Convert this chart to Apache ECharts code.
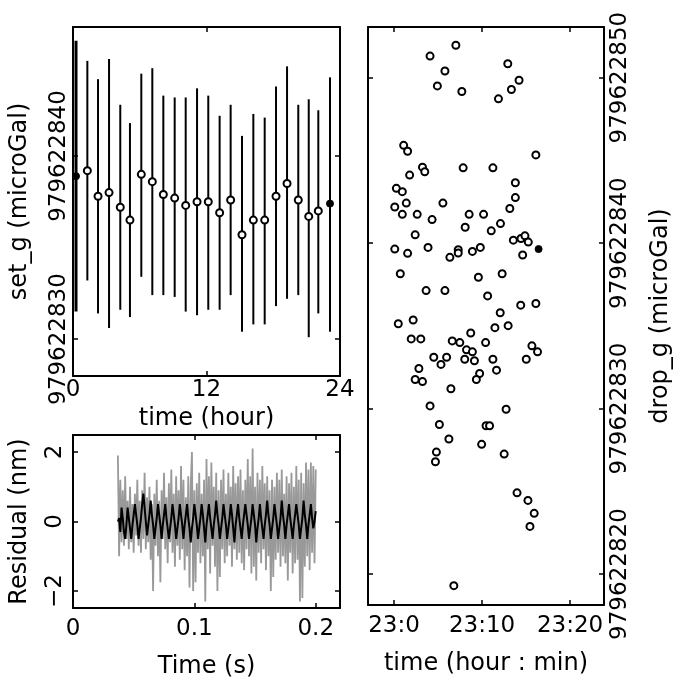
<!DOCTYPE html>
<html><head><meta charset="utf-8">
<script src="https://cdn.jsdelivr.net/npm/echarts@6/dist/echarts.min.js"></script>
<style>html,body{margin:0;padding:0;background:#fff}#c{width:674px;height:681px}</style>
</head><body><div id="c"></div>
<script>
// ---------- Panel 1: set_g vs time (hour) ----------
const setHours = [0.27, 1.29, 2.25, 3.24, 4.25, 5.12, 6.14, 7.13, 8.12, 9.14, 10.13, 11.15,
  12.16, 13.18, 14.17, 15.19, 16.21, 17.23, 18.25, 19.24, 20.25, 21.19, 22.05, 23.1];
const setG = [979622838.9, 979622839.2, 979622837.8, 979622838.0, 979622837.2, 979622836.5,
  979622839.0, 979622838.6, 979622837.9, 979622837.7, 979622837.3, 979622837.5,
  979622837.5, 979622836.9, 979622837.6, 979622835.7, 979622836.5, 979622836.5,
  979622837.8, 979622838.5, 979622837.6, 979622836.7, 979622837.0, 979622837.4];
const setGLow = [979622831.5, 979622833.2, 979622831.4, 979622830.6, 979622831.6, 979622831.2,
  979622833.4, 979622832.4, 979622832.4, 979622832.3, 979622831.5, 979622831.3,
  979622831.6, 979622831.6, 979622832.4, 979622830.4, 979622830.8, 979622830.8,
  979622831.8, 979622832.2, 979622832.4, 979622830.1, 979622831.4, 979622830.4];
const setGHigh = [979622846.3, 979622845.2, 979622844.2, 979622845.3, 979622842.8, 979622841.8,
  979622844.5, 979622844.8, 979622843.3, 979622843.2, 979622843.2, 979622843.7,
  979622843.3, 979622842.2, 979622842.8, 979622841.1, 979622842.3, 979622842.1,
  979622843.8, 979622844.9, 979622842.8, 979622843.1, 979622842.5, 979622844.3];
const setXTicks = [0, 12, 24];
const setYTicks = [979622830, 979622840];

// ---------- Panel 2: residual vs time (s) ----------
const residualStart = 0.037;   // s, first sample
const residualStep = 0.001;    // s, sampling interval
const residualGray = [
  1.9, -1.0, 1.2, -0.6, 0.9, -0.7, 1.3, -0.5, 0.6, -0.8,
  1.0, -0.6, 0.5, -0.9, 0.8, -0.4, 1.2, -0.7, 0.6, -0.9,
  0.9, -0.5, 1.4, -0.8, 0.7, -0.6, 1.0, -1.1, 0.5, -2.0,
  0.8, -0.7, 1.2, -1.0, 0.6, -1.75, 0.9, -0.5, 1.4, -0.8,
  0.7, -1.2, 1.1, -0.6, 1.5, -0.9, 0.8, -1.3, 1.3, -0.7,
  0.9, -1.1, 1.6, -0.8, 1.2, -1.4, 0.7, -1.0, 1.3, -1.9,
  1.0, 2.0, -2.0, 0.9, -1.75, 1.1, -0.9, 1.4, -1.2, 0.8,
  -1.0, 1.2, -2.3, 1.8, -0.8, 1.3, -1.5, 1.7, -0.7, 1.0,
  -1.3, 1.4, -2.0, 0.9, -1.6, 1.2, -0.8, 1.5, -1.2, 0.8,
  -1.0, 1.4, -0.7, 1.0, -1.3, 1.6, -0.8, 1.1, -1.1, 1.3,
  -0.9, 1.5, -1.2, 0.9, -1.4, 1.2, -0.8, 1.8, -1.0, 1.3,
  -1.5, 2.1, -1.3, 1.0, -1.7, 1.4, -0.9, 1.2, -1.2, 1.6,
  -0.8, 1.1, -1.4, 1.3, -1.0, 0.9, -2.0, 1.2, -1.6, 1.0,
  -1.1, 1.4, -0.9, 1.2, -1.3, 1.5, -1.0, 0.8, -1.2, 1.3,
  -1.7, 1.1, -0.9, 1.4, -1.5, 1.0, -1.2, 1.6, -1.1, 1.2,
  -2.3, 1.4, -2.2, 1.1, -1.3, 1.7, -1.0, 1.5, -1.4, 1.7,
  -0.9, 1.6, -1.2, 1.5];
const residualBlack = [
  0.0, 0.1, -0.3, 0.4, 0.1, -0.3, -0.5,
  -0.1, 0.4, 0.1, -0.2, -0.5, -0.1, 0.2,
  0.5, 0.2, -0.1, -0.5, -0.2, 0.1, 0.5,
  0.8, 0.4, 0.0, -0.4, -0.1, 0.2, 0.6,
  0.2, -0.1, -0.5, -0.2, 0.1, 0.5, 0.2,
  -0.1, -0.5, -0.1, 0.2, 0.5, 0.1, -0.2,
  -0.5, -0.2, 0.1, 0.5, 0.2, -0.1, -0.5,
  -0.2, 0.1, 0.5, 0.2, -0.1, -0.5, -0.1,
  0.2, 0.5, 0.1, -0.2, -0.6, -0.2, 0.1,
  0.5, 0.2, -0.1, -0.5, -0.2, 0.1, 0.5,
  0.2, -0.2, -0.6, -0.1, 0.2, 0.5, 0.1,
  -0.2, -0.5, -0.1, 0.2, 0.6, 0.2, -0.1,
  -0.5, -0.2, 0.1, 0.5, 0.2, -0.1, -0.5,
  -0.2, 0.1, 0.5, 0.2, -0.2, -0.6, -0.1,
  0.2, 0.5, 0.1, -0.2, -0.5, -0.1, 0.2,
  0.5, 0.2, -0.1, -0.5, -0.2, 0.1, 0.5,
  0.2, -0.1, -0.6, -0.2, 0.1, 0.5, 0.1,
  -0.2, -0.5, -0.1, 0.2, 0.6, 0.2, -0.1,
  -0.5, -0.2, 0.1, 0.5, 0.2, -0.1, -0.5,
  -0.2, 0.1, 0.6, 0.2, -0.1, -0.5, -0.1,
  0.2, 0.5, 0.1, -0.2, -0.5, -0.1, 0.2,
  0.5, 0.2, -0.1, -0.5, -0.2, 0.1, 0.6,
  0.2, -0.1, -0.5, -0.1, 0.2, 0.5, 0.1,
  -0.2, 0.0, 0.3];
const residualXTicks = [0, 0.1, 0.2];
const residualYTicks = [-2, 0, 2];

// ---------- Panel 3: drop_g vs time (minutes after 23:00) ----------
const dropMinutes = [7.02, 4.09, 12.92, 5.78, 14.20, 4.92, 7.70, 13.33, 11.86, 1.09,
  1.54, 16.11, 3.23, 3.49, 1.77, 7.85, 11.23, 13.78, 0.26, 0.94,
  13.78, 1.39, 5.55, 0.08, 13.15, 0.94, 2.63, 8.53, 10.17, 4.32,
  8.08, 12.09, 11.04, 2.40, 13.55, 14.42, 14.87, 15.25, 0.08, 1.54,
  3.86, 7.29, 7.29, 9.80, 8.90, 6.34, 14.61, 0.71, 9.58, 12.28,
  3.64, 5.78, 10.63, 14.39, 16.11, 12.06, 0.48, 2.17, 11.46, 12.96,
  8.71, 1.95, 3.04, 6.61, 7.47, 10.40, 8.23, 8.90, 15.66, 16.30,
  4.51, 5.97, 8.03, 9.13, 11.23, 15.02, 5.33, 2.82, 11.64, 9.72,
  9.35, 2.40, 3.23, 6.46, 4.09, 12.73, 5.15, 10.45, 10.85, 6.23,
  9.95, 12.51, 4.81, 4.70, 13.97, 15.21, 15.92, 15.44, 6.79];
const dropG = [979622851.96, 979622851.30, 979622850.84, 979622850.40, 979622849.84,
  979622849.50, 979622849.16, 979622849.28, 979622848.72, 979622845.91,
  979622845.55, 979622845.33, 979622844.59, 979622844.31, 979622844.11,
  979622844.55, 979622844.55, 979622843.65, 979622843.31, 979622843.11,
  979622842.75, 979622842.42, 979622842.42, 979622842.18, 979622842.09,
  979622841.74, 979622841.74, 979622841.74, 979622841.74, 979622841.42,
  979622840.96, 979622841.18, 979622840.74, 979622840.50, 979622840.18,
  979622840.28, 979622840.44, 979622840.06, 979622839.64, 979622839.38,
  979622839.74, 979622839.60, 979622839.40, 979622839.74, 979622839.50,
  979622839.14, 979622839.28, 979622838.15, 979622837.94, 979622838.15,
  979622837.13, 979622837.13, 979622836.81, 979622836.25, 979622836.35,
  979622835.79, 979622835.13, 979622835.35, 979622834.89, 979622835.01,
  979622834.57, 979622834.21, 979622834.21, 979622834.09, 979622833.99,
  979622833.99, 979622833.55, 979622833.43, 979622833.79, 979622833.43,
  979622833.10, 979622833.10, 979622832.98, 979622832.89, 979622832.98,
  979622832.98, 979622832.67, 979622832.42, 979622832.32, 979622832.12,
  979622831.76, 979622831.76, 979622831.63, 979622831.20, 979622830.16,
  979622829.96, 979622829.04, 979622828.96, 979622828.96, 979622828.16,
  979622827.84, 979622827.25, 979622827.37, 979622826.79, 979622824.91,
  979622824.45, 979622823.67, 979622822.88, 979622819.30];
const dropMarkedMinutes = [16.42];
const dropMarkedG = [979622839.64];
const dropXTicks = [0, 10, 20];
const dropXTickLabels = ['23:0', '23:10', '23:20'];
const dropYTicks = [979622820, 979622830, 979622840, 979622850];

// ---------- build ----------
const FONT = 'DejaVu Sans';
const residualTime = residualGray.map((_, i) => +(residualStart + i * residualStep).toFixed(4));
const zip = (a, b) => a.map((v, i) => [v, b[i]]);
const lastIdx = setHours.length - 1;

function axisBase(extra) {
  return Object.assign({
    type: 'value',
    splitLine: { show: false },
    axisLine: { show: true, onZero: false, lineStyle: { color: '#000', width: 2 } },
    axisTick: { show: true, inside: true, length: 5, lineStyle: { color: '#000', width: 1.5 } },
    axisLabel: { show: true, color: '#000', fontFamily: FONT, fontSize: 23 },
    nameTextStyle: { color: '#000', fontFamily: FONT, fontSize: 24 }
  }, extra);
}
function mirror(gridIndex, position, min, max, ticks) {
  return axisBase({
    gridIndex, position, min, max,
    axisTick: { show: true, inside: true, length: 5, customValues: ticks, lineStyle: { color: '#000', width: 1.5 } },
    axisLabel: { show: false, customValues: ticks }
  });
}

const grids = [
  { left: 73, top: 27, width: 267, height: 349 },
  { left: 73, top: 435, width: 267, height: 173 },
  { left: 368, top: 27, width: 238, height: 581 }
];
const setYMin = 979622827.98, setYMax = 979622847.05;
const resXMax = 0.22, resYMin = -2.49, resYMax = 2.49;
const dropXMin = -2.96, dropXMax = 23.85, dropYMin = 979622818.13, dropYMax = 979622853.06;

const ringStyle = { color: '#000', borderColor: '#000', borderWidth: 1.8, opacity: 1 };
const dotStyle = { color: '#000', borderColor: '#000', borderWidth: 1, opacity: 1 };

const option = {
  animation: false,
  backgroundColor: '#fff',
  textStyle: { fontFamily: FONT },
  grid: grids.map(g => Object.assign({ show: false, containLabel: false }, g)),
  xAxis: [
    axisBase({ gridIndex: 0, position: 'bottom', min: 0, max: 24,
      axisTick: { show: true, inside: true, length: 5, customValues: setXTicks, lineStyle: { color: '#000', width: 1.5 } },
      axisLabel: { color: '#000', fontFamily: FONT, fontSize: 23, margin: 3, customValues: setXTicks },
      name: 'time (hour)', nameLocation: 'middle', nameGap: 15 }),
    mirror(0, 'top', 0, 24, setXTicks),
    axisBase({ gridIndex: 1, position: 'bottom', min: 0, max: resXMax,
      axisTick: { show: true, inside: true, length: 5, customValues: residualXTicks, lineStyle: { color: '#000', width: 1.5 } },
      axisLabel: { color: '#000', fontFamily: FONT, fontSize: 23, margin: 10, customValues: residualXTicks,
        formatter: v => String(+v.toFixed(2)) },
      name: 'Time (s)', nameLocation: 'middle', nameGap: 47 }),
    mirror(1, 'top', 0, resXMax, residualXTicks),
    axisBase({ gridIndex: 2, position: 'bottom', min: dropXMin, max: dropXMax,
      axisTick: { show: true, inside: true, length: 5, customValues: dropXTicks, lineStyle: { color: '#000', width: 1.5 } },
      axisLabel: { color: '#000', fontFamily: FONT, fontSize: 23, margin: 10, customValues: dropXTicks,
        formatter: v => dropXTickLabels[dropXTicks.indexOf(Math.round(v))] || '' },
      name: 'time (hour : min)', nameLocation: 'middle', nameGap: 47 }),
    mirror(2, 'top', dropXMin, dropXMax, dropXTicks)
  ],
  yAxis: [
    axisBase({ gridIndex: 0, position: 'left', min: setYMin, max: setYMax,
      axisTick: { show: true, inside: true, length: 5, customValues: setYTicks, lineStyle: { color: '#000', width: 1.5 } },
      axisLabel: { color: '#000', fontFamily: FONT, fontSize: 23, margin: 2, rotate: 90, customValues: setYTicks,
        formatter: v => String(Math.round(v)) },
      name: 'set_g (microGal)', nameLocation: 'middle', nameGap: 41 }),
    mirror(0, 'right', setYMin, setYMax, setYTicks),
    axisBase({ gridIndex: 1, position: 'left', min: resYMin, max: resYMax,
      axisTick: { show: true, inside: true, length: 5, customValues: residualYTicks, lineStyle: { color: '#000', width: 1.5 } },
      axisLabel: { color: '#000', fontFamily: FONT, fontSize: 23, margin: 6, rotate: 90, customValues: residualYTicks,
        formatter: v => String(Math.round(v)).replace('-', '\u2212') },
      name: 'Residual (nm)', nameLocation: 'middle', nameGap: 41 }),
    mirror(1, 'right', resYMin, resYMax, residualYTicks),
    axisBase({ gridIndex: 2, position: 'right', min: dropYMin, max: dropYMax,
      axisTick: { show: true, inside: true, length: 5, customValues: dropYTicks, lineStyle: { color: '#000', width: 1.5 } },
      axisLabel: { color: '#000', fontFamily: FONT, fontSize: 23, margin: 5, rotate: 90, customValues: dropYTicks,
        formatter: v => String(Math.round(v)) },
      name: 'drop_g (microGal)', nameLocation: 'middle', nameGap: 45 }),
    mirror(2, 'left', dropYMin, dropYMax, dropYTicks)
  ],
  series: [
    {
      type: 'custom', xAxisIndex: 0, yAxisIndex: 0, silent: true,
      data: setHours.map((h, i) => [h, setGLow[i], setGHigh[i]]),
      encode: { x: 0, y: [1, 2] },
      renderItem: (params, api) => {
        const a = api.coord([api.value(0), api.value(1)]);
        const b = api.coord([api.value(0), api.value(2)]);
        return { type: 'line', shape: { x1: a[0], y1: a[1], x2: b[0], y2: b[1] },
          style: { stroke: '#000', lineWidth: params.dataIndex === 0 ? 3 : 2 } };
      },
      z: 2
    },
    {
      type: 'scatter', xAxisIndex: 0, yAxisIndex: 0, symbol: 'emptyCircle', symbolSize: 7,
      itemStyle: ringStyle,
      data: zip(setHours, setG).filter((_, i) => i !== 0 && i !== lastIdx), z: 3
    },
    {
      type: 'scatter', xAxisIndex: 0, yAxisIndex: 0, symbol: 'circle', symbolSize: 7,
      itemStyle: dotStyle,
      data: [[setHours[0], setG[0]], [setHours[lastIdx], setG[lastIdx]]], z: 3
    },
    {
      type: 'line', xAxisIndex: 2, yAxisIndex: 2, showSymbol: false, symbol: 'none',
      lineStyle: { color: '#999', width: 1.8 }, data: zip(residualTime, residualGray), z: 2
    },
    {
      type: 'line', xAxisIndex: 2, yAxisIndex: 2, showSymbol: false, symbol: 'none',
      lineStyle: { color: '#000', width: 2 }, data: zip(residualTime, residualBlack), z: 3
    },
    {
      type: 'scatter', xAxisIndex: 4, yAxisIndex: 4, symbol: 'emptyCircle', symbolSize: 7,
      itemStyle: ringStyle,
      data: zip(dropMinutes, dropG), z: 3
    },
    {
      type: 'scatter', xAxisIndex: 4, yAxisIndex: 4, symbol: 'circle', symbolSize: 7,
      itemStyle: dotStyle,
      data: zip(dropMarkedMinutes, dropMarkedG), z: 3
    }
  ]
};
const chart = echarts.init(document.getElementById('c'), null, { renderer: 'canvas' });
chart.setOption(option);
</script></body></html>
